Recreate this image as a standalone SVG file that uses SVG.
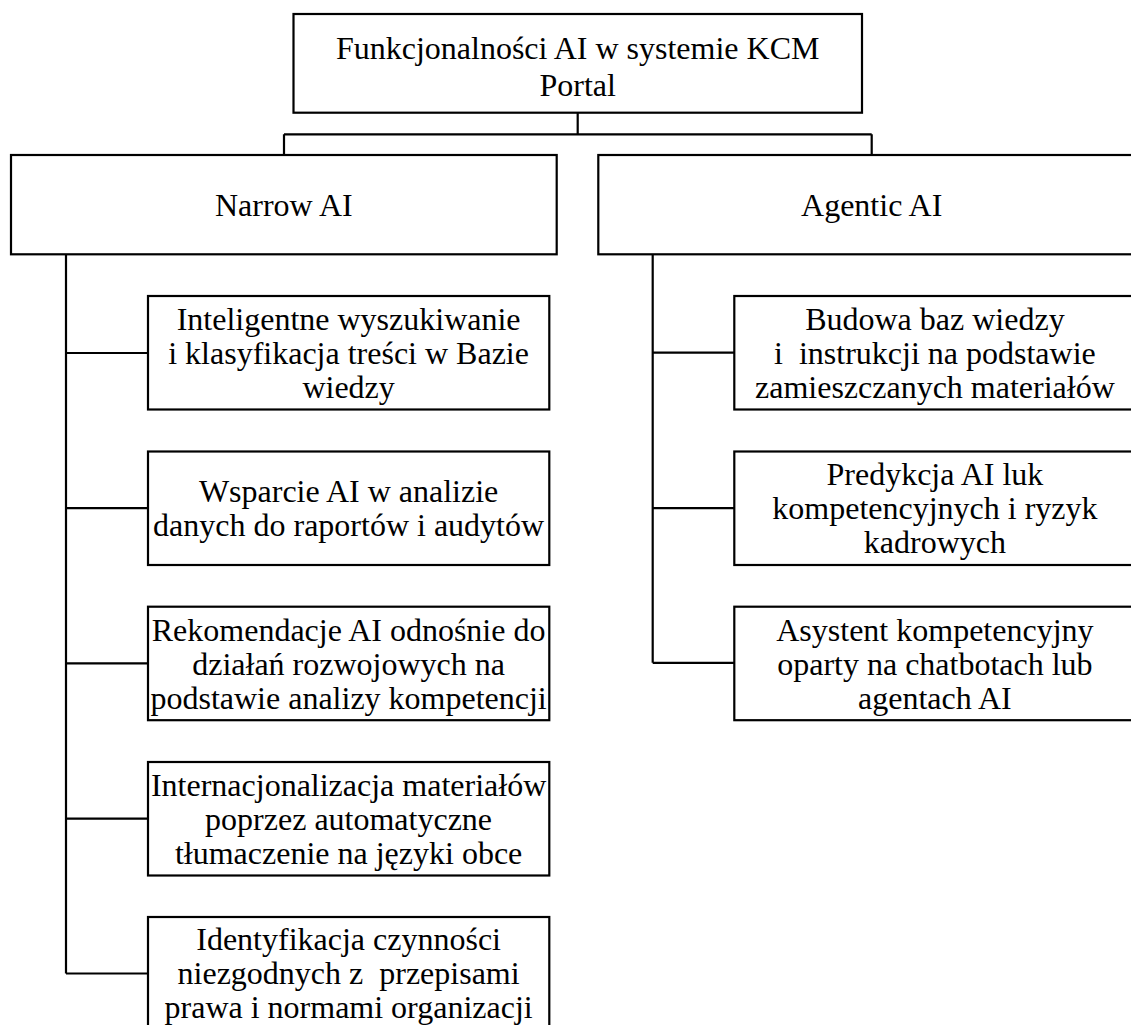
<svg xmlns="http://www.w3.org/2000/svg" width="1131" height="1025" viewBox="0 0 1131 1025">
  <style>
    .box { fill: #ffffff; stroke: #000000; stroke-width: 2.2; }
    .lbl { font-family: "Liberation Serif", "Times New Roman", serif; font-size: 32px; fill: #000000; text-anchor: middle; }
    .wire { fill: none; stroke: #000000; stroke-width: 2.2; }
  </style>
  <rect width="1131" height="1025" fill="#ffffff"/>

  <!-- connectors -->
  <g id="connectors">
    <path class="wire" d="M577.7 112.7 V134.3 M284 134.3 H871.7 M284 134.3 V155 M871.7 134.3 V155"/>
    <path class="wire" d="M66 254.3 V973.5 M66 353 H148 M66 508.2 H148 M66 663.4 H148 M66 818.7 H148 M66 973.5 H148"/>
    <path class="wire" d="M652.7 254.3 V662.8 M652.7 352.7 H734.3 M652.7 508.2 H734.3 M652.7 662.8 H734.3"/>
  </g>

  <!-- root -->
  <g id="root">
    <rect class="box" x="293.5" y="14" width="568.5" height="98.7"/>
    <text class="lbl" x="577.7" y="59">Funkcjonalności AI w systemie KCM</text>
    <text class="lbl" x="577.7" y="95.8">Portal</text>
  </g>

  <!-- branches -->
  <g id="narrow-ai">
    <rect class="box" x="11" y="155" width="545.7" height="99.3"/>
    <text class="lbl" x="283.8" y="215.5">Narrow AI</text>
  </g>
  <g id="agentic-ai">
    <rect class="box" x="598.3" y="155" width="547" height="99.3"/>
    <text class="lbl" x="871.7" y="215.5">Agentic AI</text>
  </g>

  <!-- Narrow AI items -->
  <g id="n1">
    <rect class="box" x="148" y="296" width="401.3" height="113.5"/>
    <text class="lbl" x="348.6" y="329.8">Inteligentne wyszukiwanie</text>
    <text class="lbl" x="348.6" y="363.8">i klasyfikacja treści w Bazie</text>
    <text class="lbl" x="348.6" y="397.8">wiedzy</text>
  </g>
  <g id="n2">
    <rect class="box" x="148" y="451.5" width="401.3" height="113.5"/>
    <text class="lbl" x="348.6" y="502">Wsparcie AI w analizie</text>
    <text class="lbl" x="348.6" y="536">danych do raportów i audytów</text>
  </g>
  <g id="n3">
    <rect class="box" x="148" y="606.7" width="401.3" height="113.5"/>
    <text class="lbl" x="348.6" y="640.5">Rekomendacje AI odnośnie do</text>
    <text class="lbl" x="348.6" y="674.5">działań rozwojowych na</text>
    <text class="lbl" x="348.6" y="708.5">podstawie analizy kompetencji</text>
  </g>
  <g id="n4">
    <rect class="box" x="148" y="762" width="401.3" height="113.5"/>
    <text class="lbl" x="348.6" y="795.8">Internacjonalizacja materiałów</text>
    <text class="lbl" x="348.6" y="829.8">poprzez automatyczne</text>
    <text class="lbl" x="348.6" y="863.8">tłumaczenie na języki obce</text>
  </g>
  <g id="n5">
    <rect class="box" x="148" y="917" width="401.3" height="113.5"/>
    <text class="lbl" x="348.6" y="950.3">Identyfikacja czynności</text>
    <text class="lbl" x="348.6" y="984.3" xml:space="preserve">niezgodnych z  przepisami</text>
    <text class="lbl" x="348.6" y="1017.5">prawa i normami organizacji</text>
  </g>

  <!-- Agentic AI items -->
  <g id="a1">
    <rect class="box" x="734.3" y="296" width="401.3" height="113.5"/>
    <text class="lbl" x="934.9" y="329.8">Budowa baz wiedzy</text>
    <text class="lbl" x="934.9" y="363.8" xml:space="preserve">i  instrukcji na podstawie</text>
    <text class="lbl" x="934.9" y="397.8">zamieszczanych materiałów</text>
  </g>
  <g id="a2">
    <rect class="box" x="734.3" y="451.5" width="401.3" height="113.5"/>
    <text class="lbl" x="934.9" y="485.3">Predykcja AI luk</text>
    <text class="lbl" x="934.9" y="519.3">kompetencyjnych i ryzyk</text>
    <text class="lbl" x="934.9" y="553.3">kadrowych</text>
  </g>
  <g id="a3">
    <rect class="box" x="734.3" y="606.7" width="401.3" height="113.5"/>
    <text class="lbl" x="934.9" y="640.5">Asystent kompetencyjny</text>
    <text class="lbl" x="934.9" y="674.5">oparty na chatbotach lub</text>
    <text class="lbl" x="934.9" y="708.5">agentach AI</text>
  </g>
</svg>
